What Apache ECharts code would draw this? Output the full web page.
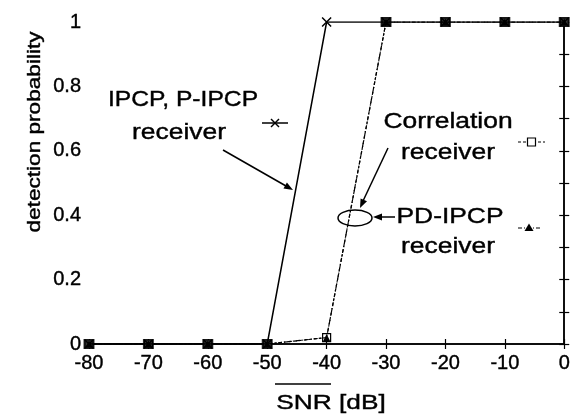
<!DOCTYPE html>
<html>
<head>
<meta charset="utf-8">
<script src="https://cdn.jsdelivr.net/npm/echarts@6/dist/echarts.min.js"></script>
<style>
  html, body { margin: 0; padding: 0; background: #fff; }
  #chart { width: 573px; height: 414px; }
</style>
</head>
<body>
<div id="chart"></div>
<script>
// SNR sweep (dB) and detection probability of each receiver
const snr = [-80, -70, -60, -50, -40, -30, -20, -10, 0];
const ipcp = [0, 0, 0, 0, 1, 1, 1, 1, 1];
const correlation = [0, 0, 0, 0, 0.02, 1, 1, 1, 1];
const pdIpcp = [0, 0, 0, 0, 0.02, 1, 1, 1, 1];
const xTicks = [-80, -70, -60, -50, -40, -30, -20, -10, 0];
const yTicks = [0, 0.2, 0.4, 0.6, 0.8, 1];

const FONT = 'Liberation Sans, Arial, Helvetica, sans-serif';
const pairs = arr => snr.map((x, i) => [x, arr[i]]);

// points where all three receivers coincide are drawn as one solid block
const shared = snr
  .map((x, i) => [x, ipcp[i]])
  .filter((p, i) => ipcp[i] === correlation[i] && ipcp[i] === pdIpcp[i]);

const chart = echarts.init(document.getElementById('chart'), null, { renderer: 'canvas' });

const axisLine = { show: true, lineStyle: { color: '#000', width: 1.5 } };
const tick = { show: true, inside: true, length: 5, lineStyle: { color: '#000', width: 1.2 } };
const minor = { show: true, splitNumber: 2, length: 5, lineStyle: { color: '#000', width: 1.2 } };
const tickText = { color: '#000', fontSize: 20, fontFamily: FONT,
                   textBorderColor: '#000', textBorderWidth: 0.4 };

function label(text, x, y, size, sx, rot) {
  return {
    type: 'text', x: x, y: y, scaleX: sx, rotation: rot || 0, z: 10,
    style: { text: text, font: size + 'px ' + FONT, fill: '#000',
             stroke: '#000', lineWidth: 0.4,
             textAlign: 'center', textVerticalAlign: 'middle' }
  };
}
function line(x1, y1, x2, y2, w, dash) {
  return { type: 'line', z: 10,
    shape: { x1: x1, y1: y1, x2: x2, y2: y2 },
    style: { stroke: '#000', lineWidth: w || 1.5, lineDash: dash || null } };
}
function head(points) {
  return { type: 'polygon', z: 10, shape: { points: points }, style: { fill: '#000' } };
}

const graphics = [
  // axis titles
  label('detection probability', 35, 132, 19, 1.19, Math.PI / 2),
  label('SNR [dB]', 331, 403, 21, 1.25),
  line(275, 384, 331, 384, 1.5),

  // IPCP, P-IPCP annotation
  label('IPCP, P-IPCP', 183, 100, 22, 1.12),
  label('receiver', 179, 133, 22, 1.2),
  line(262, 123, 288, 123, 1.5),
  line(271, 119, 279, 127, 1.5),
  line(271, 127, 279, 119, 1.5),
  line(223, 150, 286, 186, 1.5),
  head([[293, 190], [283.5, 188.5], [286.9, 182.5]]),

  // Correlation annotation
  label('Correlation', 448, 122, 22, 1.2),
  label('receiver', 448, 153, 22, 1.2),
  line(518, 142, 545, 142, 1.2, [3, 2]),
  { type: 'rect', z: 11, shape: { x: 527.5, y: 138, width: 8, height: 8 },
    style: { fill: '#fff', stroke: '#000', lineWidth: 1.2 } },
  line(388, 148, 363, 201, 1.5),
  head([[360, 208], [360.6, 198.4], [367.0, 201.3]]),

  // PD-IPCP annotation
  label('PD-IPCP', 450, 217, 22, 1.2),
  label('receiver', 448, 247, 22, 1.2),
  line(518, 228, 540, 228, 1.2, [4, 2, 1, 2]),
  head([[529, 223.5], [524.5, 231], [533.5, 231]]),
  { type: 'ellipse', z: 10, shape: { cx: 355, cy: 218, rx: 17, ry: 8 },
    style: { fill: 'none', stroke: '#000', lineWidth: 1.5 } },
  line(395, 217, 381, 217, 1.5),
  head([[373, 217], [382, 213.5], [382, 220.5]])
];

chart.setOption({
  animation: false,
  backgroundColor: '#fff',
  grid: { left: 89, right: 5, top: 22, bottom: 70 },
  xAxis: [
    {
      type: 'value', min: xTicks[0], max: xTicks[xTicks.length - 1], interval: 10,
      axisLine: axisLine, axisTick: tick, splitLine: { show: false },
      axisLabel: Object.assign({ margin: 9, customValues: xTicks }, tickText)
    },
    {
      type: 'value', position: 'top', min: xTicks[0], max: xTicks[xTicks.length - 1], interval: 10,
      axisLine: axisLine, axisTick: tick, splitLine: { show: false },
      axisLabel: { show: false }
    }
  ],
  yAxis: [
    {
      type: 'value', min: yTicks[0], max: yTicks[yTicks.length - 1], interval: 0.2,
      axisLine: axisLine, axisTick: tick, minorTick: minor, splitLine: { show: false },
      axisLabel: Object.assign({ margin: 8 }, tickText)
    },
    {
      type: 'value', position: 'right', min: yTicks[0], max: yTicks[yTicks.length - 1], interval: 0.2,
      axisLine: axisLine, axisTick: tick, minorTick: minor, splitLine: { show: false },
      axisLabel: { show: false }
    }
  ],
  series: [
    {
      name: 'Correlation receiver', type: 'line', data: pairs(correlation),
      lineStyle: { color: '#000', width: 1.2, type: [3, 2] },
      symbol: 'rect', symbolSize: 8, showSymbol: true,
      itemStyle: { color: '#fff', borderColor: '#000', borderWidth: 1.2 },
      z: 3
    },
    {
      name: 'PD-IPCP receiver', type: 'line', data: pairs(pdIpcp),
      lineStyle: { color: '#000', width: 1.2, type: [4, 2, 1, 2] },
      symbol: 'triangle', symbolSize: 7, showSymbol: true,
      itemStyle: { color: '#000' },
      z: 4
    },
    {
      name: 'IPCP, P-IPCP receiver', type: 'line', data: pairs(ipcp),
      lineStyle: { color: '#000', width: 1.5 },
      symbol: 'path://M0,0L10,10M10,0L0,10', symbolSize: 9, showSymbol: true,
      itemStyle: { color: 'none', borderColor: '#000', borderWidth: 1.5 },
      z: 5
    },
    {
      name: 'shared', type: 'scatter', data: shared,
      symbol: 'rect', symbolSize: [11, 10],
      itemStyle: { color: '#000' }, z: 6
    }
  ],
  graphic: graphics
});
</script>
</body>
</html>
